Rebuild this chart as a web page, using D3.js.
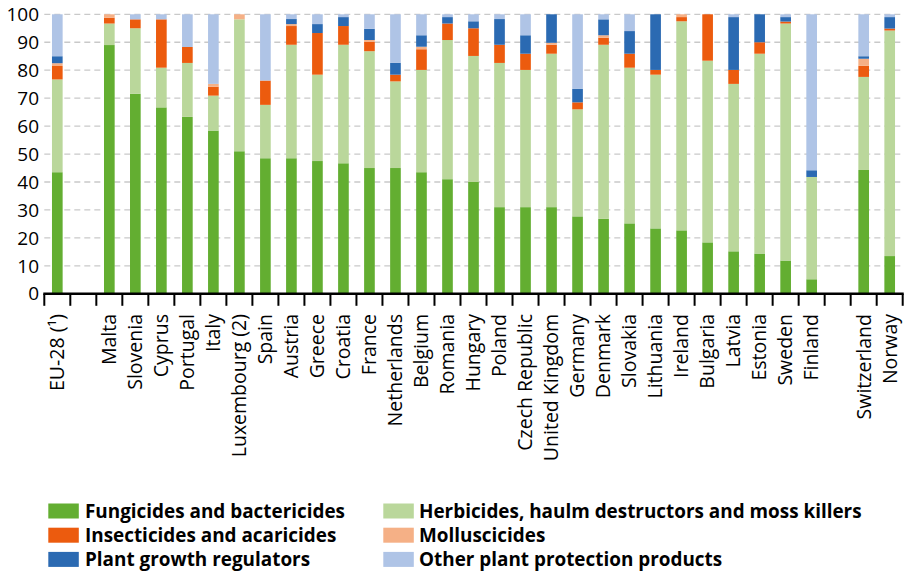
<!DOCTYPE html>
<html><head><meta charset="utf-8">
<script src="https://cdn.jsdelivr.net/npm/d3@7"></script>
<style>
html,body{margin:0;padding:0;background:#fff;}
svg text{font-family:"Open Sans","Noto Sans",sans-serif;fill:#000;}
</style></head>
<body><svg id="c" width="906" height="571"></svg>
<script>
const categories = ["EU-28 (¹)", "", "Malta", "Slovenia", "Cyprus", "Portugal", "Italy", "Luxembourg (2)", "Spain", "Austria", "Greece", "Croatia", "France", "Netherlands", "Belgium", "Romania", "Hungary", "Poland", "Czech Republic", "United Kingdom", "Germany", "Denmark", "Slovakia", "Lithuania", "Ireland", "Bulgaria", "Latvia", "Estonia", "Sweden", "Finland", "", "Switzerland", "Norway"];
const seriesNames = ["Fungicides and bactericides", "Herbicides, haulm destructors and moss killers", "Insecticides and acaricides", "Molluscicides", "Plant growth regulators", "Other plant protection products"];
const fungicides   = [43.5, 0, 89.0, 71.6, 66.7, 63.3, 58.4, 51.0, 48.5, 48.5, 47.5, 46.7, 45.0, 45.0, 43.5, 41.0, 40.0, 31.0, 31.0, 31.0, 27.7, 26.8, 25.2, 23.4, 22.7, 18.4, 15.2, 14.4, 11.9, 5.2, 0, 44.3, 13.5];
const herbicides   = [33.2, 0, 7.7, 23.4, 14.2, 19.3, 12.5, 47.2, 19.1, 40.6, 30.9, 42.4, 41.8, 31.0, 36.6, 49.8, 45.1, 51.6, 49.1, 54.9, 38.3, 62.3, 55.7, 55.0, 74.8, 65.0, 59.9, 71.5, 84.8, 36.6, 0, 33.3, 80.7];
const insecticides = [4.8, 0, 2.1, 3.2, 17.3, 5.7, 3.2, 0, 8.7, 6.7, 14.9, 6.7, 3.3, 2.4, 7.4, 5.9, 9.9, 6.5, 5.8, 3.2, 2.5, 2.5, 5.0, 1.7, 1.5, 16.6, 5.0, 4.1, 0.7, 0, 0, 4.0, 0.7];
const molluscicides= [1.0, 0, 1.2, 0, 0, 0, 1.0, 1.8, 0, 0.7, 0, 0, 0.7, 0, 0.9, 0, 0, 0, 0, 0.7, 0, 0.9, 0, 0, 1.0, 0, 0, 0, 0, 0, 0, 2.5, 0];
const growthReg    = [2.5, 0, 0, 0, 0, 0, 0, 0, 0, 1.8, 3.2, 3.2, 4.0, 4.2, 4.1, 2.3, 2.5, 9.2, 6.6, 10.2, 4.8, 5.7, 8.1, 19.9, 0, 0, 18.9, 10.0, 1.6, 2.4, 0, 0.9, 4.1];
const other        = [15.0, 0, 0, 1.8, 1.8, 11.7, 24.9, 0, 23.7, 1.7, 3.5, 1.0, 5.2, 17.4, 7.5, 1.0, 2.5, 1.7, 7.5, 0, 26.7, 1.8, 6.0, 0, 0, 0, 1.0, 0, 1.0, 55.8, 0, 15.0, 1.0];
const yTicks = [0, 10, 20, 30, 40, 50, 60, 70, 80, 90, 100];
const colors = ["#63ae31", "#bad79b", "#ec5b0e", "#f5b086", "#2b6ab2", "#afc4e6"];

const seriesData = [fungicides, herbicides, insecticides, molluscicides, growthReg, other];
const keys = seriesNames;
const rows = categories.map((c, i) => {
  const r = {idx: i};
  keys.forEach((k, j) => r[k] = seriesData[j][i]);
  return r;
});

const svg = d3.select("#c");
const x0 = 44.3, x1 = 902.7, yBottom = 293.8, yTop = 14.3;
const x = d3.scaleBand().domain(d3.range(categories.length)).range([x0, x1]).paddingInner(0.59).paddingOuter(0.295);
const y = d3.scaleLinear().domain([0, 100]).range([yBottom, yTop]);

// gridlines
svg.append("g").selectAll("line").data(yTicks.filter(d => d > 0)).join("line")
  .attr("x1", x0).attr("x2", 904).attr("y1", d => y(d)).attr("y2", d => y(d))
  .attr("stroke", "#c9c9c9").attr("stroke-width", 1.3).attr("stroke-dasharray", "6,4");

// y labels
svg.append("g").selectAll("text").data(yTicks).join("text")
  .attr("x", 39).attr("y", d => y(d)).attr("dy", "0.35em").attr("text-anchor", "end")
  .attr("font-size", 19).text(d => d);

// bars
const stack = d3.stack().keys(keys)(rows);
svg.append("g").selectAll("g").data(stack).join("g")
  .attr("fill", (d, i) => colors[i])
  .selectAll("rect").data(d => d).join("rect")
  .attr("x", d => x(d.data.idx)).attr("width", x.bandwidth())
  .attr("y", d => y(d[1])).attr("height", d => Math.max(0, y(d[0]) - y(d[1])));

// x axis
const step = x.step();
svg.append("line").attr("x1", x0 - 1).attr("x2", x1 + 1).attr("y1", yBottom).attr("y2", yBottom)
  .attr("stroke", "#000").attr("stroke-width", 2.6);
svg.append("g").selectAll("line").data(d3.range(categories.length + 1)).join("line")
  .attr("x1", i => x0 + i * step).attr("x2", i => x0 + i * step)
  .attr("y1", yBottom).attr("y2", yBottom + 12)
  .attr("stroke", "#000").attr("stroke-width", 2);

// x labels
svg.append("g").selectAll("text").data(categories).join("text")
  .attr("transform", (d, i) => `translate(${x(i) + x.bandwidth() / 2},${314}) rotate(-90)`)
  .attr("text-anchor", "end").attr("dy", "0.35em").attr("font-size", 19.5)
  .text(d => d);

// legend
const legCols = [[48.3, 85], [383.3, 419]];
const legend = svg.append("g").selectAll("g").data(seriesNames).join("g")
  .attr("transform", (d, i) => {
    const col = i % 2, row = Math.floor(i / 2);
    return `translate(${legCols[col][0]},${503.5 + row * 24.2})`;
  });
legend.append("rect").attr("width", 30.5).attr("height", 15).attr("fill", (d, i) => colors[i]);
legend.append("text").attr("x", (d, i) => legCols[i % 2][1] - legCols[i % 2][0]).attr("y", 7.5).attr("dy", "0.36em")
  .attr("font-size", 18.9).attr("font-weight", "bold").style("font-stretch", "normal")
  .text(d => d);
</script></body></html>
